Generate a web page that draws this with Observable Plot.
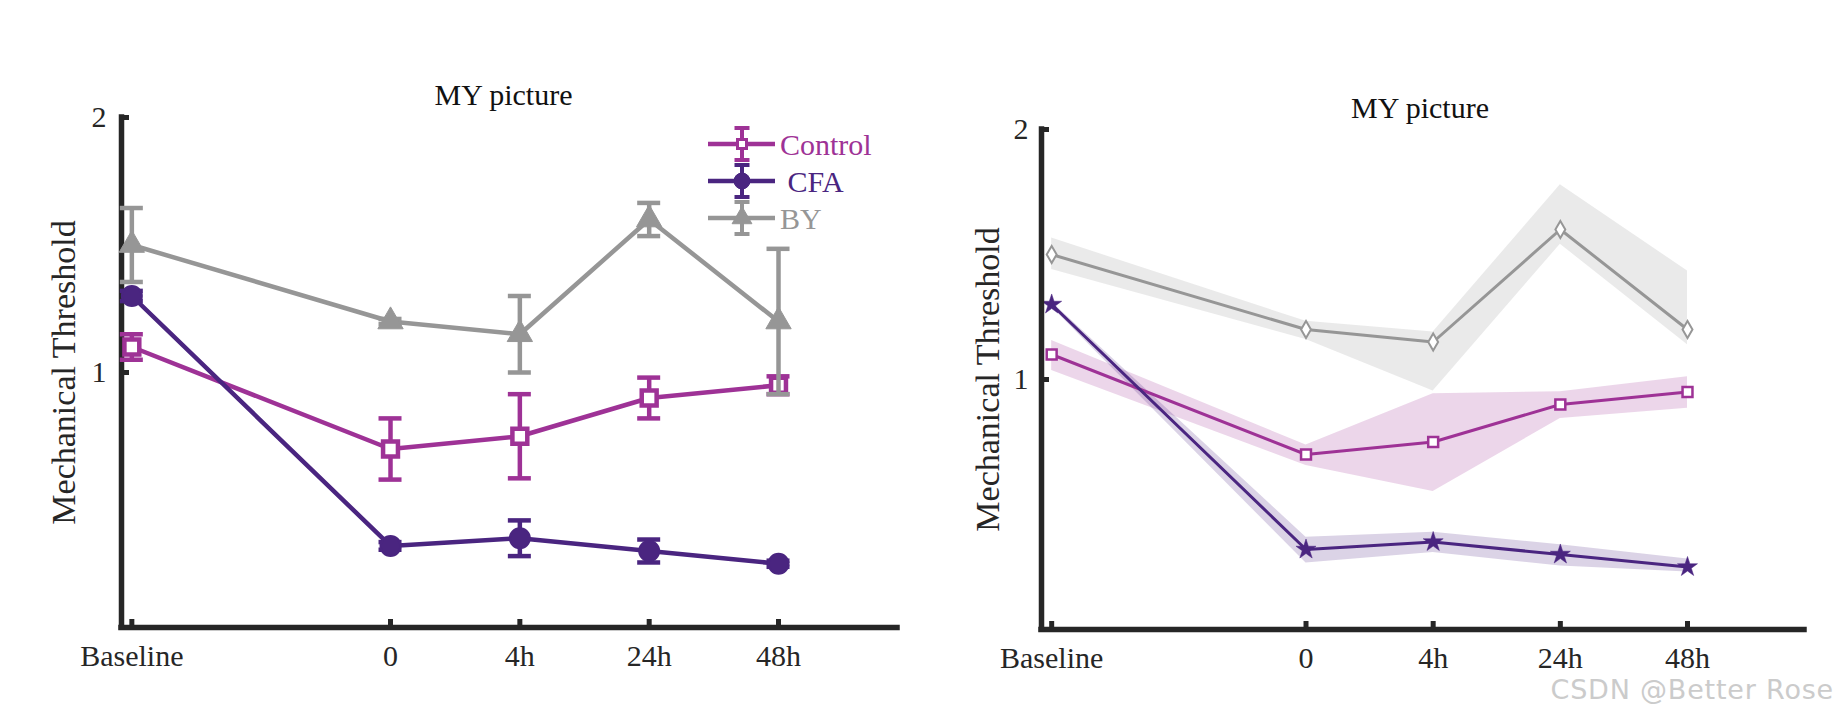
<!DOCTYPE html>
<html><head><meta charset="utf-8">
<script src="https://cdn.jsdelivr.net/npm/d3@7"></script>
<script src="https://cdn.jsdelivr.net/npm/@observablehq/plot@0.6"></script>
<style>
body{margin:0;background:#fff;}
#wrap{position:relative;width:1842px;height:720px;overflow:hidden;font-family:"Liberation Serif","Times New Roman",serif;background:#fff;}
.panel{position:absolute;top:0;}
#legend{position:absolute;left:0;top:0;}
#wm{position:absolute;right:8px;top:680px;font-family:"DejaVu Sans",Arial,sans-serif;font-size:27px;line-height:20px;letter-spacing:0.8px;color:#cbcbcb;white-space:nowrap;}
</style></head><body><div id="wrap"><div id="left" class="panel" style="left:0px"></div><div id="right" class="panel" style="left:920px"></div><div id="wm">CSDN @Better Rose</div></div>
<script>
// ---- data ----
const timeLabels = ["Baseline", "0", "4h", "24h", "48h"];
const timePos = [1, 3, 4, 5, 6];
const seriesNames = ["Control", "CFA", "BY"];
const legendLabels = ["Control", " CFA", "BY"];
const controlMean = [1.10, 0.70, 0.75, 0.90, 0.95];
const cfaMean = [1.30, 0.32, 0.35, 0.30, 0.25];
const byMean = [1.50, 1.20, 1.15, 1.60, 1.20];
// left panel: error bar half-widths
const controlErr = [0.05, 0.12, 0.165, 0.08, 0.035];
const cfaErr = [0.02, 0.015, 0.07, 0.045, 0.012];
const byErr = [0.145, 0.01, 0.15, 0.065, 0.285];
// right panel: shaded band lower / upper
const controlLo = [1.036, 0.656, 0.552, 0.844, 0.885];
const controlHi = [1.156, 0.738, 0.943, 0.951, 1.011];
const cfaLo = [1.29, 0.266, 0.308, 0.254, 0.230];
const cfaHi = [1.31, 0.369, 0.389, 0.339, 0.282];
const byLo = [1.44, 1.16, 0.954, 1.541, 1.139];
const byHi = [1.566, 1.233, 1.19, 1.779, 1.434];
const yTicks = [1, 2];
const titleText = "MY picture";
const yLabelText = "Mechanical Threshold";

// ---- styling ----
const colors = {Control: "#9E3296", CFA: "#4A2580", BY: "#969696"};
const axisColor = "#262626";
const xDomain = [0.92, 6.92];
const yDomain = [0, 2];

const means = {Control: controlMean, CFA: cfaMean, BY: byMean};
const errs = {Control: controlErr, CFA: cfaErr, BY: byErr};
const los = {Control: controlLo, CFA: cfaLo, BY: byLo};
const his = {Control: controlHi, CFA: cfaHi, BY: byHi};

const rows = {};
for (const s of seriesNames) {
  rows[s] = timePos.map((t, i) => ({
    series: s, t, label: timeLabels[i], mean: means[s][i],
    lo: means[s][i] - errs[s][i], hi: means[s][i] + errs[s][i],
    bandLo: los[s][i], bandHi: his[s][i]
  }));
}

function axesMarks(cfg) {
  return [
    Plot.ruleY([yDomain[0]], {stroke: axisColor, strokeWidth: 5.5, strokeLinecap: "square"}),
    Plot.ruleX([xDomain[0]], {y1: yDomain[0], y2: yDomain[1], stroke: axisColor, strokeWidth: 5.5, strokeLinecap: "square"}),
    Plot.axisX(timePos, {tickSize: -8, fill: "none", stroke: axisColor, strokeWidth: 5, label: null}),
    Plot.axisX(timePos, {tickSize: 0, tickPadding: cfg.xPad, tickFormat: d => timeLabels[timePos.indexOf(d)], fontSize: 30, fill: axisColor, label: null}),
    Plot.axisY(yTicks, {tickSize: -8, fill: "none", stroke: axisColor, strokeWidth: 5, label: null}),
    Plot.axisY(yTicks, {tickSize: 0, tickPadding: cfg.yPad, tickFormat: d => String(d), fontSize: 30, fill: axisColor, label: null}),
    Plot.text([yLabelText], {text: d => d, frameAnchor: "left", textAnchor: "middle", rotate: -90, dx: cfg.ylDx, fontSize: 34, fill: axisColor, lineAnchor: "middle"}),
    Plot.text([titleText], {text: d => d, frameAnchor: "top", textAnchor: "middle", dx: cfg.tDx, dy: cfg.tDy, lineAnchor: "bottom", fontSize: 30, fill: "#111"})
  ];
}

// ---- left panel: error bars ----
const leftMarks = [];
const leftSym = {
  Control: {symbol: "square", r: 8.4, fill: "white", strokeWidth: 4.5},
  CFA: {symbol: "circle", r: 10, fill: null, strokeWidth: 2},
  BY: {symbol: "triangle", r: 9.4, fill: null, strokeWidth: 1}
};
for (const s of seriesNames) {
  const c = colors[s];
  const m = leftSym[s];
  leftMarks.push(
    Plot.line(rows[s], {x: "t", y: "mean", stroke: c, strokeWidth: 4.5}),
    Plot.ruleX(rows[s], {x: "t", y1: "lo", y2: "hi", stroke: c, strokeWidth: 4.5}),
    Plot.ruleY(rows[s], {y: "lo", x1: "t", x2: "t", insetLeft: -11.5, insetRight: -11.5, stroke: c, strokeWidth: 4.5}),
    Plot.ruleY(rows[s], {y: "hi", x1: "t", x2: "t", insetLeft: -11.5, insetRight: -11.5, stroke: c, strokeWidth: 4.5}),
    Plot.dot(rows[s], {x: "t", y: "mean", symbol: m.symbol, r: m.r, fill: m.fill || c, stroke: c, strokeWidth: m.strokeWidth})
  );
}

const leftPlot = Plot.plot({
  width: 920, height: 720,
  marginLeft: 121, marginRight: 23, marginTop: 117, marginBottom: 93,
  x: {domain: xDomain, label: null},
  y: {domain: yDomain, label: null},
  style: {fontFamily: "Liberation Serif, Times New Roman, serif", background: "transparent", overflow: "visible"},
  marks: [...axesMarks({xPad: 17, yPad: 15, ylDx: -57, tDx: -6, tDy: -13}), ...leftMarks]
});
document.getElementById("left").append(leftPlot);

// ---- right panel: shaded bands ----
const rightMarks = [];
for (const s of seriesNames) {
  rightMarks.push(Plot.areaY(rows[s], {x: "t", y1: "bandLo", y2: "bandHi", fill: colors[s], fillOpacity: 0.2}));
}
const rightSym = {
  Control: {symbol: "square", r: 5.6, fill: "white", strokeWidth: 2.5},
  CFA: {symbol: "star", r: 6.3, fill: null, strokeWidth: 0.5},
  BY: {symbol: "diamond", r: 5.2, fill: "white", strokeWidth: 2}
};
for (const s of ["BY", "Control", "CFA"]) {
  const c = colors[s];
  const m = rightSym[s];
  rightMarks.push(
    Plot.line(rows[s], {x: "t", y: "mean", stroke: c, strokeWidth: 3}),
    Plot.dot(rows[s], {x: "t", y: "mean", symbol: m.symbol, r: m.r, fill: m.fill || c, stroke: c, strokeWidth: m.strokeWidth})
  );
}
const rightPlot = Plot.plot({
  width: 922, height: 720,
  marginLeft: 121, marginRight: 38, marginTop: 129, marginBottom: 91,
  x: {domain: xDomain, label: null},
  y: {domain: yDomain, label: null},
  style: {fontFamily: "Liberation Serif, Times New Roman, serif", background: "transparent", overflow: "visible"},
  marks: [...rightMarks, ...axesMarks({xPad: 17, yPad: 13, ylDx: -53, tDx: -3, tDy: -12})]
});
document.getElementById("right").append(rightPlot);

// ---- legend (left panel, top right) ----
const lg = d3.select("#wrap").append("svg").attr("id", "legend").attr("width", 920).attr("height", 260);
const legSym = {
  Control: {type: d3.symbolSquare, size: 81, fill: "white", sw: 3},
  CFA: {type: d3.symbolCircle, size: 200, fill: null, sw: 1},
  BY: {type: d3.symbolTriangle, size: 170, fill: null, sw: 1}
};
seriesNames.forEach((s, i) => {
  const c = colors[s];
  const cy = 144 + i * 37;
  const g = lg.append("g").attr("transform", `translate(0,${cy})`);
  g.append("line").attr("x1", 708).attr("x2", 775).attr("y1", 0).attr("y2", 0).attr("stroke", c).attr("stroke-width", 4.5);
  g.append("line").attr("x1", 742).attr("x2", 742).attr("y1", -16).attr("y2", 16).attr("stroke", c).attr("stroke-width", 4);
  g.append("line").attr("x1", 734.5).attr("x2", 749.5).attr("y1", -16).attr("y2", -16).attr("stroke", c).attr("stroke-width", 4);
  g.append("line").attr("x1", 734.5).attr("x2", 749.5).attr("y1", 16).attr("y2", 16).attr("stroke", c).attr("stroke-width", 4);
  const m = legSym[s];
  g.append("path").attr("d", d3.symbol(m.type, m.size)()).attr("transform", "translate(742,0)")
    .attr("fill", m.fill || c).attr("stroke", c).attr("stroke-width", m.sw);
  g.append("text").attr("x", 780).attr("y", 11).attr("font-size", 30)
    .attr("font-family", "Liberation Serif, Times New Roman, serif")
    .attr("fill", c).style("white-space", "pre").text(legendLabels[i]);
});
</script>
</body></html>
